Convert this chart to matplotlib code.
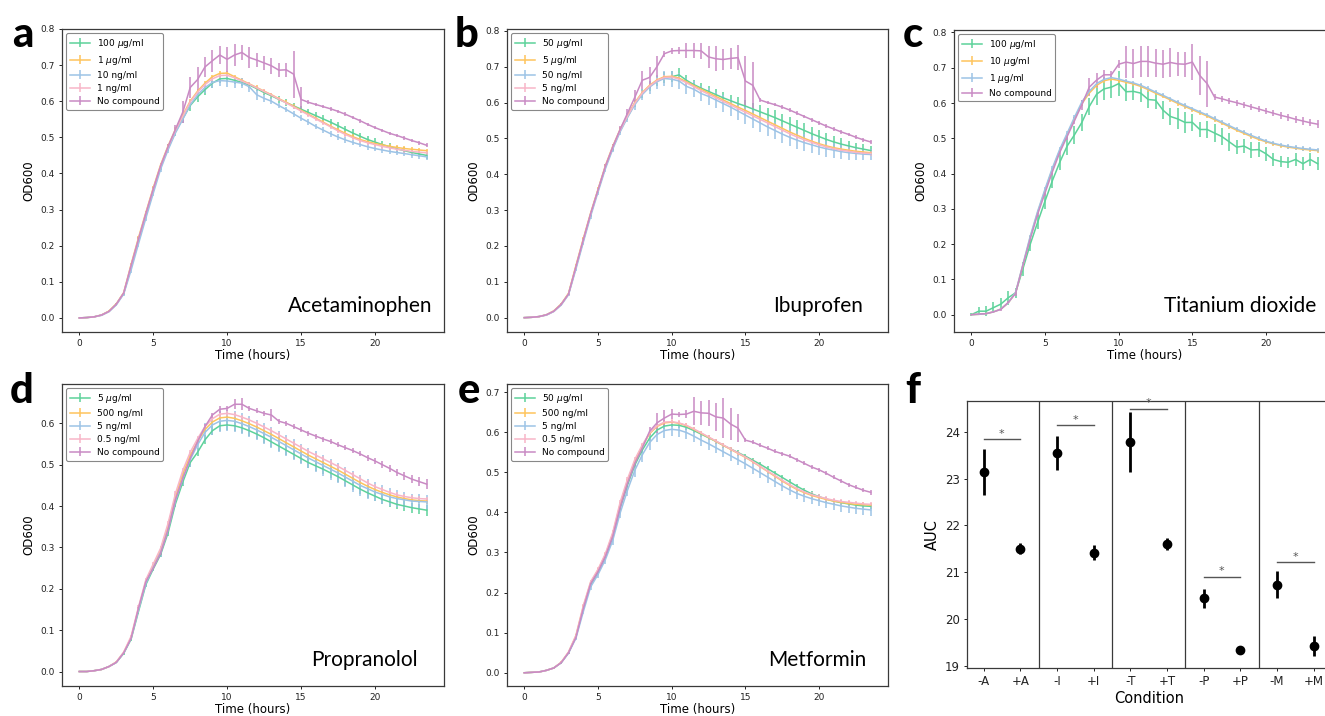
import numpy as np
import matplotlib.pyplot as plt

# plate reader sampled every 30 min, 0 - 23.5 h
time_h = np.arange(0, 24, 0.5)

# legend colours: high dose, mid dose, low dose, lowest dose, no compound
colours = ['#5dd29a', '#fec45c', '#9dc3e6', '#f8b5c7', '#c98ac4']

# barely visible error bars on the flat series
faint_sd = [0.001, 0.001, 0.001, 0.002, 0.002, 0.003, 0.003, 0.004, 0.004, 0.005, 0.005, 0.005,
            0.005, 0.006, 0.006, 0.006, 0.006, 0.006, 0.006, 0.006, 0.006, 0.006, 0.006, 0.006,
            0.006, 0.006, 0.006, 0.006, 0.006, 0.006, 0.006, 0.006, 0.006, 0.006, 0.006, 0.006,
            0.006, 0.006, 0.006, 0.006, 0.006, 0.006, 0.006, 0.006, 0.006, 0.006, 0.006, 0.006]

# ---- a: acetaminophen
acet_labels = ['100 $\\mu$g/ml', '1 $\\mu$g/ml', '10 ng/ml', '1 ng/ml', 'No compound']
acet_hi = [0.000, 0.001, 0.003, 0.008, 0.018, 0.038, 0.068, 0.140, 0.212, 0.283, 0.352, 0.418,
           0.470, 0.515, 0.552, 0.588, 0.612, 0.632, 0.650, 0.662, 0.663, 0.658, 0.652, 0.645,
           0.635, 0.624, 0.615, 0.605, 0.596, 0.587, 0.578, 0.569, 0.560, 0.551, 0.542, 0.532,
           0.522, 0.512, 0.503, 0.494, 0.487, 0.480, 0.474, 0.468, 0.463, 0.458, 0.454, 0.450]
acet_hi_sd = [0.001, 0.001, 0.001, 0.002, 0.002, 0.003, 0.004, 0.006, 0.006, 0.007, 0.007, 0.008,
              0.008, 0.010, 0.012, 0.014, 0.015, 0.015, 0.014, 0.012, 0.010, 0.010, 0.009, 0.009,
              0.008, 0.008, 0.008, 0.009, 0.009, 0.009, 0.010, 0.010, 0.010, 0.010, 0.010, 0.010,
              0.010, 0.010, 0.010, 0.010, 0.010, 0.009, 0.009, 0.009, 0.009, 0.009, 0.009, 0.009]
acet_mid = [0.000, 0.001, 0.003, 0.008, 0.019, 0.039, 0.070, 0.148, 0.222, 0.292, 0.360, 0.424,
            0.476, 0.522, 0.562, 0.600, 0.628, 0.650, 0.668, 0.677, 0.678, 0.668, 0.658, 0.648,
            0.638, 0.628, 0.618, 0.607, 0.597, 0.586, 0.575, 0.564, 0.553, 0.542, 0.531, 0.521,
            0.511, 0.502, 0.494, 0.488, 0.483, 0.479, 0.475, 0.472, 0.469, 0.467, 0.465, 0.463]
acet_lo = [0.000, 0.001, 0.003, 0.007, 0.017, 0.036, 0.066, 0.132, 0.205, 0.276, 0.345, 0.412,
           0.465, 0.512, 0.550, 0.590, 0.618, 0.638, 0.652, 0.657, 0.656, 0.653, 0.650, 0.640,
           0.618, 0.608, 0.600, 0.588, 0.577, 0.565, 0.553, 0.542, 0.530, 0.520, 0.510, 0.501,
           0.493, 0.486, 0.480, 0.474, 0.469, 0.465, 0.461, 0.458, 0.455, 0.452, 0.449, 0.446]
acet_lo_sd = [0.001, 0.001, 0.001, 0.002, 0.002, 0.003, 0.004, 0.008, 0.008, 0.008, 0.008, 0.008,
              0.008, 0.008, 0.009, 0.010, 0.012, 0.014, 0.015, 0.016, 0.016, 0.015, 0.014, 0.014,
              0.014, 0.010, 0.009, 0.008, 0.008, 0.008, 0.008, 0.008, 0.008, 0.008, 0.008, 0.008,
              0.008, 0.008, 0.008, 0.008, 0.008, 0.008, 0.008, 0.008, 0.008, 0.008, 0.009, 0.009]
acet_min = [0.000, 0.001, 0.003, 0.008, 0.018, 0.038, 0.069, 0.145, 0.218, 0.289, 0.357, 0.421,
            0.473, 0.519, 0.558, 0.598, 0.625, 0.646, 0.662, 0.671, 0.672, 0.665, 0.656, 0.647,
            0.637, 0.627, 0.617, 0.606, 0.595, 0.584, 0.573, 0.562, 0.551, 0.540, 0.529, 0.518,
            0.508, 0.499, 0.491, 0.485, 0.480, 0.475, 0.471, 0.467, 0.464, 0.461, 0.459, 0.457]
acet_ctrl = [0.000, 0.001, 0.003, 0.008, 0.018, 0.038, 0.069, 0.145, 0.218, 0.289, 0.357, 0.421,
             0.474, 0.522, 0.570, 0.638, 0.660, 0.695, 0.712, 0.728, 0.716, 0.728, 0.735, 0.721,
             0.714, 0.706, 0.698, 0.686, 0.687, 0.675, 0.605, 0.597, 0.591, 0.585, 0.579, 0.572,
             0.564, 0.555, 0.546, 0.536, 0.527, 0.519, 0.511, 0.505, 0.498, 0.491, 0.485, 0.478]
acet_ctrl_sd = [0.001, 0.001, 0.001, 0.002, 0.002, 0.003, 0.004, 0.005, 0.005, 0.006, 0.006, 0.007,
                0.008, 0.012, 0.030, 0.030, 0.035, 0.028, 0.030, 0.025, 0.035, 0.030, 0.022, 0.028,
                0.020, 0.020, 0.022, 0.020, 0.020, 0.065, 0.035, 0.006, 0.005, 0.005, 0.005, 0.005,
                0.005, 0.005, 0.005, 0.005, 0.005, 0.005, 0.005, 0.005, 0.005, 0.005, 0.005, 0.006]

# ---- b: ibuprofen
ibu_labels = ['50 $\\mu$g/ml', '5 $\\mu$g/ml', '50 ng/ml', '5 ng/ml', 'No compound']
ibu_hi = [0.000, 0.001, 0.003, 0.008, 0.018, 0.037, 0.066, 0.140, 0.215, 0.288, 0.355, 0.420,
          0.474, 0.522, 0.560, 0.598, 0.625, 0.645, 0.660, 0.670, 0.672, 0.677, 0.662, 0.650,
          0.640, 0.631, 0.622, 0.613, 0.605, 0.597, 0.590, 0.582, 0.574, 0.566, 0.558, 0.549,
          0.540, 0.531, 0.522, 0.513, 0.505, 0.497, 0.490, 0.484, 0.479, 0.474, 0.470, 0.466]
ibu_hi_sd = [0.001, 0.001, 0.001, 0.002, 0.002, 0.003, 0.004, 0.005, 0.006, 0.006, 0.007, 0.007,
             0.008, 0.008, 0.009, 0.010, 0.012, 0.014, 0.015, 0.015, 0.015, 0.020, 0.015, 0.014,
             0.015, 0.015, 0.015, 0.016, 0.016, 0.017, 0.018, 0.018, 0.019, 0.019, 0.020, 0.020,
             0.020, 0.020, 0.020, 0.020, 0.019, 0.018, 0.017, 0.016, 0.015, 0.014, 0.013, 0.012]
ibu_mid = [0.000, 0.001, 0.003, 0.008, 0.019, 0.038, 0.068, 0.145, 0.220, 0.292, 0.358, 0.424,
           0.478, 0.525, 0.565, 0.600, 0.628, 0.648, 0.663, 0.672, 0.673, 0.668, 0.658, 0.647,
           0.637, 0.627, 0.617, 0.607, 0.597, 0.587, 0.578, 0.568, 0.558, 0.548, 0.538, 0.528,
           0.518, 0.509, 0.500, 0.492, 0.485, 0.479, 0.474, 0.470, 0.467, 0.464, 0.462, 0.460]
ibu_lo = [0.000, 0.001, 0.003, 0.007, 0.017, 0.035, 0.064, 0.135, 0.210, 0.283, 0.350, 0.415,
          0.470, 0.518, 0.558, 0.594, 0.622, 0.643, 0.658, 0.667, 0.665, 0.660, 0.645, 0.637,
          0.625, 0.617, 0.607, 0.597, 0.587, 0.576, 0.565, 0.554, 0.543, 0.532, 0.522, 0.512,
          0.503, 0.495, 0.488, 0.482, 0.476, 0.471, 0.467, 0.463, 0.460, 0.458, 0.456, 0.455]
ibu_lo_sd = [0.001, 0.001, 0.001, 0.002, 0.002, 0.003, 0.004, 0.006, 0.006, 0.007, 0.008, 0.008,
             0.009, 0.010, 0.012, 0.014, 0.016, 0.018, 0.020, 0.022, 0.022, 0.022, 0.022, 0.022,
             0.022, 0.023, 0.023, 0.024, 0.024, 0.025, 0.025, 0.025, 0.025, 0.025, 0.025, 0.025,
             0.025, 0.025, 0.024, 0.024, 0.023, 0.022, 0.021, 0.020, 0.019, 0.018, 0.017, 0.016]
ibu_min = [0.000, 0.001, 0.003, 0.008, 0.018, 0.037, 0.066, 0.142, 0.217, 0.290, 0.356, 0.422,
           0.476, 0.523, 0.562, 0.598, 0.626, 0.646, 0.661, 0.670, 0.671, 0.665, 0.655, 0.644,
           0.633, 0.623, 0.613, 0.603, 0.593, 0.583, 0.573, 0.563, 0.553, 0.543, 0.533, 0.523,
           0.513, 0.504, 0.496, 0.489, 0.482, 0.476, 0.471, 0.467, 0.464, 0.461, 0.459, 0.458]
ibu_ctrl = [0.000, 0.001, 0.003, 0.008, 0.018, 0.037, 0.066, 0.142, 0.217, 0.290, 0.356, 0.422,
            0.476, 0.525, 0.570, 0.615, 0.662, 0.670, 0.700, 0.736, 0.744, 0.745, 0.745, 0.745,
            0.744, 0.727, 0.722, 0.720, 0.723, 0.725, 0.660, 0.648, 0.607, 0.600, 0.594, 0.587,
            0.579, 0.570, 0.561, 0.552, 0.543, 0.534, 0.526, 0.518, 0.511, 0.503, 0.496, 0.490]
ibu_ctrl_sd = [0.001, 0.001, 0.001, 0.002, 0.002, 0.003, 0.004, 0.005, 0.005, 0.006, 0.006, 0.007,
               0.008, 0.010, 0.012, 0.020, 0.025, 0.030, 0.030, 0.008, 0.008, 0.010, 0.020, 0.020,
               0.022, 0.030, 0.035, 0.030, 0.030, 0.035, 0.070, 0.065, 0.005, 0.005, 0.005, 0.005,
               0.005, 0.005, 0.005, 0.005, 0.005, 0.005, 0.005, 0.005, 0.005, 0.005, 0.005, 0.005]

# ---- c: titanium dioxide (three doses only)
tio2_labels = ['100 $\\mu$g/ml', '10 $\\mu$g/ml', '1 $\\mu$g/ml', 'No compound']
tio2_hi = [0.000, 0.010, 0.010, 0.020, 0.030, 0.048, 0.062, 0.130, 0.200, 0.262, 0.322, 0.380,
           0.432, 0.478, 0.510, 0.545, 0.590, 0.625, 0.640, 0.645, 0.655, 0.632, 0.633, 0.628,
           0.610, 0.608, 0.580, 0.562, 0.555, 0.545, 0.545, 0.525, 0.525, 0.515, 0.505, 0.490,
           0.475, 0.478, 0.467, 0.468, 0.456, 0.440, 0.434, 0.432, 0.440, 0.428, 0.440, 0.428]
tio2_hi_sd = [0.005, 0.012, 0.015, 0.015, 0.018, 0.020, 0.015, 0.020, 0.020, 0.020, 0.022, 0.022,
              0.022, 0.025, 0.025, 0.025, 0.025, 0.030, 0.030, 0.030, 0.035, 0.025, 0.025, 0.025,
              0.025, 0.025, 0.025, 0.025, 0.030, 0.030, 0.025, 0.020, 0.025, 0.025, 0.025, 0.025,
              0.020, 0.020, 0.022, 0.022, 0.020, 0.018, 0.015, 0.015, 0.018, 0.018, 0.018, 0.018]
tio2_mid = [0.000, 0.001, 0.003, 0.008, 0.016, 0.033, 0.062, 0.140, 0.220, 0.290, 0.352, 0.412,
            0.465, 0.510, 0.555, 0.598, 0.628, 0.650, 0.663, 0.668, 0.664, 0.659, 0.654, 0.647,
            0.638, 0.628, 0.619, 0.609, 0.599, 0.590, 0.581, 0.572, 0.563, 0.553, 0.543, 0.533,
            0.523, 0.514, 0.505, 0.497, 0.490, 0.484, 0.479, 0.475, 0.472, 0.469, 0.467, 0.465]
tio2_lo = [0.000, 0.001, 0.003, 0.008, 0.016, 0.033, 0.063, 0.143, 0.223, 0.293, 0.356, 0.416,
           0.469, 0.514, 0.560, 0.603, 0.633, 0.655, 0.667, 0.672, 0.668, 0.662, 0.657, 0.650,
           0.641, 0.631, 0.622, 0.612, 0.602, 0.593, 0.584, 0.575, 0.566, 0.556, 0.546, 0.536,
           0.526, 0.517, 0.508, 0.500, 0.492, 0.486, 0.481, 0.477, 0.474, 0.471, 0.469, 0.467]
tio2_ctrl = [0.000, 0.002, 0.003, 0.008, 0.015, 0.035, 0.060, 0.140, 0.215, 0.285, 0.345, 0.405,
             0.460, 0.505, 0.550, 0.595, 0.645, 0.665, 0.680, 0.680, 0.710, 0.716, 0.712, 0.718,
             0.718, 0.713, 0.710, 0.715, 0.711, 0.710, 0.716, 0.678, 0.655, 0.617, 0.612, 0.606,
             0.601, 0.595, 0.589, 0.583, 0.577, 0.571, 0.565, 0.560, 0.554, 0.549, 0.544, 0.540]
tio2_ctrl_sd = [0.001, 0.001, 0.002, 0.003, 0.004, 0.005, 0.006, 0.006, 0.007, 0.007, 0.008, 0.008,
                0.008, 0.009, 0.010, 0.015, 0.025, 0.020, 0.015, 0.010, 0.012, 0.045, 0.042, 0.045,
                0.045, 0.040, 0.040, 0.040, 0.035, 0.035, 0.050, 0.055, 0.065, 0.008, 0.008, 0.008,
                0.008, 0.008, 0.008, 0.009, 0.009, 0.009, 0.009, 0.010, 0.010, 0.010, 0.010, 0.012]

# ---- d: propranolol
prop_labels = ['5 $\\mu$g/ml', '500 ng/ml', '5 ng/ml', '0.5 ng/ml', 'No compound']
prop_hi = [0.000, 0.000, 0.002, 0.005, 0.012, 0.022, 0.044, 0.078, 0.145, 0.210, 0.248, 0.283,
           0.335, 0.405, 0.458, 0.505, 0.530, 0.560, 0.582, 0.594, 0.596, 0.594, 0.589, 0.582,
           0.574, 0.565, 0.555, 0.545, 0.535, 0.525, 0.515, 0.505, 0.497, 0.489, 0.480, 0.471,
           0.461, 0.451, 0.441, 0.432, 0.424, 0.416, 0.410, 0.404, 0.400, 0.396, 0.393, 0.390]
prop_hi_sd = [0.001, 0.001, 0.001, 0.001, 0.002, 0.002, 0.003, 0.004, 0.005, 0.006, 0.006, 0.007,
              0.007, 0.008, 0.009, 0.010, 0.010, 0.011, 0.011, 0.012, 0.012, 0.012, 0.012, 0.012,
              0.012, 0.012, 0.012, 0.012, 0.012, 0.012, 0.012, 0.012, 0.012, 0.012, 0.012, 0.012,
              0.012, 0.012, 0.012, 0.012, 0.012, 0.012, 0.012, 0.012, 0.012, 0.012, 0.012, 0.013]
prop_mid = [0.000, 0.000, 0.002, 0.005, 0.012, 0.023, 0.046, 0.082, 0.152, 0.218, 0.256, 0.294,
            0.352, 0.422, 0.478, 0.522, 0.556, 0.585, 0.603, 0.613, 0.615, 0.612, 0.606, 0.599,
            0.591, 0.582, 0.573, 0.563, 0.553, 0.543, 0.533, 0.523, 0.514, 0.505, 0.496, 0.487,
            0.477, 0.467, 0.457, 0.448, 0.440, 0.433, 0.427, 0.422, 0.418, 0.415, 0.413, 0.412]
prop_lo = [0.000, 0.000, 0.002, 0.005, 0.012, 0.022, 0.045, 0.080, 0.148, 0.213, 0.252, 0.288,
           0.342, 0.412, 0.466, 0.512, 0.548, 0.578, 0.596, 0.605, 0.607, 0.605, 0.599, 0.592,
           0.584, 0.575, 0.566, 0.556, 0.546, 0.536, 0.526, 0.516, 0.507, 0.498, 0.489, 0.480,
           0.470, 0.460, 0.450, 0.442, 0.434, 0.428, 0.422, 0.418, 0.415, 0.412, 0.411, 0.410]
prop_lo_sd = [0.001, 0.001, 0.001, 0.001, 0.002, 0.002, 0.003, 0.005, 0.006, 0.008, 0.009, 0.010,
              0.012, 0.014, 0.016, 0.018, 0.020, 0.022, 0.024, 0.025, 0.025, 0.025, 0.025, 0.025,
              0.025, 0.025, 0.025, 0.025, 0.025, 0.025, 0.025, 0.025, 0.025, 0.025, 0.025, 0.025,
              0.025, 0.025, 0.025, 0.024, 0.023, 0.022, 0.021, 0.020, 0.019, 0.018, 0.017, 0.016]
prop_min = [0.000, 0.000, 0.002, 0.005, 0.012, 0.023, 0.047, 0.085, 0.156, 0.222, 0.260, 0.298,
            0.358, 0.430, 0.486, 0.530, 0.563, 0.592, 0.611, 0.622, 0.624, 0.621, 0.615, 0.608,
            0.600, 0.591, 0.582, 0.572, 0.562, 0.552, 0.542, 0.532, 0.523, 0.514, 0.505, 0.496,
            0.486, 0.476, 0.466, 0.456, 0.447, 0.440, 0.433, 0.427, 0.423, 0.420, 0.418, 0.417]
prop_ctrl = [0.000, 0.000, 0.002, 0.005, 0.012, 0.022, 0.045, 0.080, 0.153, 0.217, 0.250, 0.286,
             0.342, 0.415, 0.467, 0.515, 0.556, 0.592, 0.620, 0.634, 0.636, 0.646, 0.646, 0.636,
             0.630, 0.624, 0.620, 0.605, 0.600, 0.592, 0.584, 0.576, 0.569, 0.562, 0.556, 0.548,
             0.541, 0.534, 0.526, 0.517, 0.509, 0.500, 0.491, 0.481, 0.473, 0.465, 0.459, 0.453]
prop_ctrl_sd = [0.001, 0.001, 0.001, 0.001, 0.002, 0.002, 0.003, 0.004, 0.004, 0.005, 0.005, 0.005,
                0.006, 0.006, 0.006, 0.006, 0.006, 0.006, 0.006, 0.008, 0.006, 0.012, 0.015, 0.006,
                0.006, 0.006, 0.015, 0.006, 0.006, 0.006, 0.006, 0.006, 0.006, 0.006, 0.006, 0.006,
                0.006, 0.006, 0.006, 0.007, 0.007, 0.008, 0.008, 0.009, 0.010, 0.010, 0.011, 0.012]

# ---- e: metformin
met_labels = ['50 $\\mu$g/ml', '500 ng/ml', '5 ng/ml', '0.5 ng/ml', 'No compound']
met_hi = [0.000, 0.001, 0.002, 0.006, 0.012, 0.025, 0.050, 0.090, 0.160, 0.220, 0.250, 0.288,
          0.338, 0.410, 0.468, 0.518, 0.555, 0.585, 0.605, 0.615, 0.618, 0.617, 0.612, 0.604,
          0.595, 0.586, 0.577, 0.567, 0.558, 0.549, 0.540, 0.530, 0.520, 0.509, 0.498, 0.487,
          0.476, 0.465, 0.455, 0.446, 0.439, 0.433, 0.428, 0.424, 0.421, 0.418, 0.416, 0.415]
met_mid = [0.000, 0.001, 0.002, 0.006, 0.012, 0.026, 0.051, 0.092, 0.165, 0.225, 0.256, 0.294,
           0.346, 0.420, 0.478, 0.528, 0.565, 0.596, 0.614, 0.623, 0.625, 0.622, 0.616, 0.607,
           0.597, 0.587, 0.577, 0.567, 0.557, 0.547, 0.537, 0.526, 0.514, 0.502, 0.490, 0.478,
           0.467, 0.457, 0.449, 0.442, 0.437, 0.432, 0.428, 0.425, 0.422, 0.420, 0.419, 0.418]
met_lo = [0.000, 0.001, 0.002, 0.006, 0.012, 0.025, 0.049, 0.086, 0.152, 0.214, 0.245, 0.282,
          0.330, 0.398, 0.455, 0.505, 0.543, 0.574, 0.594, 0.604, 0.607, 0.605, 0.599, 0.590,
          0.580, 0.571, 0.561, 0.551, 0.541, 0.531, 0.521, 0.510, 0.499, 0.488, 0.477, 0.466,
          0.456, 0.447, 0.440, 0.434, 0.429, 0.424, 0.420, 0.416, 0.413, 0.410, 0.408, 0.406]
met_lo_sd = [0.001, 0.001, 0.001, 0.001, 0.002, 0.002, 0.003, 0.005, 0.006, 0.008, 0.008, 0.010,
             0.012, 0.013, 0.015, 0.016, 0.017, 0.018, 0.018, 0.018, 0.017, 0.016, 0.015, 0.015,
             0.015, 0.015, 0.014, 0.014, 0.014, 0.014, 0.014, 0.014, 0.014, 0.014, 0.014, 0.014,
             0.014, 0.014, 0.014, 0.014, 0.014, 0.014, 0.014, 0.014, 0.014, 0.014, 0.014, 0.014]
met_min = [0.000, 0.001, 0.002, 0.006, 0.012, 0.026, 0.052, 0.093, 0.167, 0.227, 0.258, 0.297,
           0.350, 0.425, 0.483, 0.532, 0.568, 0.598, 0.616, 0.625, 0.626, 0.623, 0.617, 0.608,
           0.598, 0.588, 0.578, 0.568, 0.558, 0.548, 0.538, 0.527, 0.515, 0.503, 0.492, 0.480,
           0.469, 0.459, 0.451, 0.444, 0.439, 0.434, 0.430, 0.427, 0.425, 0.423, 0.421, 0.420]
met_ctrl = [0.000, 0.001, 0.002, 0.006, 0.012, 0.025, 0.050, 0.088, 0.160, 0.222, 0.252, 0.290,
            0.340, 0.412, 0.472, 0.522, 0.560, 0.602, 0.623, 0.635, 0.645, 0.644, 0.645, 0.652,
            0.648, 0.647, 0.638, 0.635, 0.620, 0.610, 0.580, 0.575, 0.567, 0.560, 0.552, 0.546,
            0.540, 0.531, 0.522, 0.513, 0.506, 0.497, 0.487, 0.478, 0.469, 0.462, 0.455, 0.450]
met_ctrl_sd = [0.001, 0.001, 0.001, 0.001, 0.002, 0.002, 0.003, 0.004, 0.004, 0.005, 0.005, 0.005,
               0.006, 0.006, 0.006, 0.006, 0.008, 0.010, 0.025, 0.020, 0.012, 0.006, 0.010, 0.035,
               0.030, 0.032, 0.035, 0.050, 0.040, 0.035, 0.005, 0.005, 0.005, 0.005, 0.005, 0.005,
               0.005, 0.005, 0.005, 0.005, 0.005, 0.005, 0.005, 0.005, 0.005, 0.005, 0.005, 0.006]

# ---- f: area under curve
auc_labels = ['-A', '+A', '-I', '+I', '-T', '+T', '-P', '+P', '-M', '+M']
auc_mean = [23.15, 21.50, 23.55, 21.42, 23.78, 21.60, 20.44, 19.33, 20.73, 19.42]
auc_err = [0.49, 0.12, 0.37, 0.15, 0.64, 0.12, 0.20, 0.03, 0.29, 0.21]
sig_height = [23.84, 24.14, 24.49, 20.90, 21.21]

panels = [
    ('a', 'Acetaminophen', acet_labels,
     [(acet_hi, acet_hi_sd), (acet_mid, faint_sd), (acet_lo, acet_lo_sd),
      (acet_min, faint_sd), (acet_ctrl, acet_ctrl_sd)]),
    ('b', 'Ibuprofen', ibu_labels,
     [(ibu_hi, ibu_hi_sd), (ibu_mid, faint_sd), (ibu_lo, ibu_lo_sd),
      (ibu_min, faint_sd), (ibu_ctrl, ibu_ctrl_sd)]),
    ('c', 'Titanium dioxide', tio2_labels,
     [(tio2_hi, tio2_hi_sd), (tio2_mid, faint_sd), (tio2_lo, faint_sd),
      (tio2_ctrl, tio2_ctrl_sd)]),
    ('d', 'Propranolol', prop_labels,
     [(prop_hi, prop_hi_sd), (prop_mid, faint_sd), (prop_lo, prop_lo_sd),
      (prop_min, faint_sd), (prop_ctrl, prop_ctrl_sd)]),
    ('e', 'Metformin', met_labels,
     [(met_hi, faint_sd), (met_mid, faint_sd), (met_lo, met_lo_sd),
      (met_min, faint_sd), (met_ctrl, met_ctrl_sd)]),
]

# layout (pixels from top-left), y limits and where the compound name sits
W, H = 1325, 716
boxes = {'a': (62, 29, 382, 303), 'b': (507, 29, 381, 303), 'c': (954, 30, 381, 302),
         'd': (62, 384, 382, 302), 'e': (507, 384, 381, 302)}
ylims = {'a': (-0.039, 0.80), 'b': (-0.04, 0.805), 'c': (-0.049, 0.807),
         'd': (-0.035, 0.695), 'e': (-0.033, 0.72)}
name_x = {'a': 23.9, 'b': 23.0, 'c': 23.4, 'd': 22.9, 'e': 23.2}
letter_pos = {'a': (12, 47), 'b': (455, 47), 'c': (903, 47), 'd': (10, 403),
              'e': (458, 403), 'f': (905, 403)}

spine_col = '#3a3a3a'

fig = plt.figure(figsize=(W / 100, H / 100), dpi=100)


def style_axes(ax, ticksize):
    for s in ax.spines.values():
        s.set_color(spine_col)
        s.set_linewidth(0.9)
    ax.tick_params(labelsize=ticksize, length=2.5, width=0.7, pad=2.5, colors='#222222')


for letter, name, labels, series in panels:
    l, t, w, h = boxes[letter]
    ax = fig.add_axes([l / W, 1 - (t + h) / H, w / W, h / H])
    cols = colours if len(series) == 5 else [colours[0], colours[1], colours[2], colours[4]]
    for (vals, sd), lab, col in zip(series, labels, cols):
        ax.errorbar(time_h, vals, yerr=sd, color=col, lw=1.1, elinewidth=1.1,
                    capsize=0, label=lab)
    ax.set_xlim(-1.175, 24.675)
    ax.set_ylim(*ylims[letter])
    ax.set_xticks([0, 5, 10, 15, 20])
    ax.set_xlabel('Time (hours)', fontsize=8.5, labelpad=0.5)
    ax.set_ylabel('OD600', fontsize=8.5, labelpad=4)
    style_axes(ax, 6.5)
    leg = ax.legend(loc='upper left', fontsize=6.5, framealpha=1, borderaxespad=0.45,
                    handlelength=2.2, labelspacing=0.45)
    leg.get_frame().set_edgecolor('#888888')
    leg.get_frame().set_linewidth(0.8)
    ax.text(name_x[letter], 0.066, name, transform=ax.get_xaxis_transform(),
            ha='right', va='baseline', fontsize=15, family='Lato')

# ---- panel f
fl, ft, fw, fh = 967, 401, 365, 267
axf = fig.add_axes([fl / W, 1 - (ft + fh) / H, fw / W, fh / H])
xpos = np.arange(len(auc_labels))
axf.errorbar(xpos, auc_mean, yerr=auc_err, fmt='o', color='k', ms=6,
             elinewidth=2, capsize=0)
for k, sh in enumerate(sig_height):
    x0, x1 = 2 * k, 2 * k + 1
    axf.plot([x0, x1], [sh, sh], color='#555555', lw=1)
    axf.text((x0 + x1) / 2, sh + 0.01, '*', ha='center', va='bottom',
             color='#555555', fontsize=8)
for sep in [1.5, 3.5, 5.5, 7.5]:
    axf.axvline(sep, color=spine_col, lw=0.9)
axf.set_xlim(-0.45, 9.5)
axf.set_ylim(18.95, 24.66)
axf.set_xticks(xpos)
axf.set_xticklabels(auc_labels)
axf.set_yticks([19, 20, 21, 22, 23, 24])
axf.set_xlabel('Condition', fontsize=10.5, labelpad=2)
axf.set_ylabel('AUC', fontsize=10.5, labelpad=4)
style_axes(axf, 8.5)

for letter, (lx, ly) in letter_pos.items():
    fig.text(lx / W, 1 - ly / H, letter, fontsize=30, fontweight='black',
             family='Lato', va='baseline', ha='left')

fig.savefig('out.png', dpi=100)
